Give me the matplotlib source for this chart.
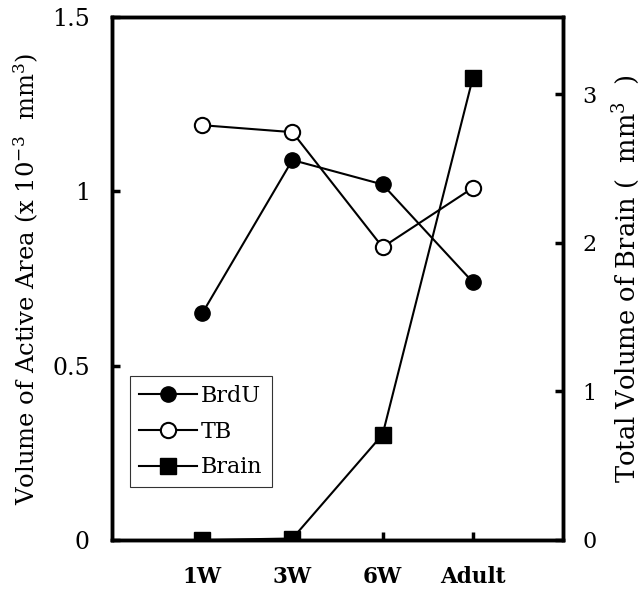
import matplotlib
matplotlib.use("Agg")
import matplotlib.pyplot as plt

categories = ["1W", "3W", "6W", "Adult"]
brdu = [0.65, 1.09, 1.02, 0.74]
tb = [1.19, 1.17, 0.84, 1.01]
brain = [0.0, 0.01, 0.71, 3.11]

plt.rcParams['font.family'] = ['DejaVu Serif']
plt.rcParams['mathtext.fontset'] = 'dejavuserif'

fig = plt.figure(figsize=(6.41, 6.01), dpi=100)
ax = fig.add_axes([0.1747, 0.1015, 0.7036, 0.870])
ax2 = ax.twinx()

x = list(range(1, len(categories) + 1))
l1, = ax.plot(x, brdu, color='black', lw=1.5, marker='o', ms=11,
              mfc='black', mec='black', label='BrdU', zorder=3)
l2, = ax.plot(x, tb, color='black', lw=1.5, marker='o', ms=11,
              mfc='white', mec='black', mew=1.5, label='TB', zorder=3)
l3, = ax2.plot(x, brain, color='black', lw=1.5, marker='s', ms=11,
               mfc='black', mec='black', label='Brain', zorder=3)

ax.set_xlim(0, 5)
ax.set_ylim(0, 1.5)
ax2.set_ylim(0, 3.52)

ax.set_xticks(x)
ax.set_xticklabels(categories, fontweight='bold', fontsize=15.5)
ax.set_yticks([0, 0.5, 1, 1.5])
ax.set_yticklabels(['0', '0.5', '1', '1.5'], fontsize=17)
ax2.set_yticks([0, 1, 2, 3])
ax2.set_yticklabels(['0', '1', '2', '3'], fontsize=16)

ax.tick_params(axis='y', direction='in', length=6, width=2.5, pad=16)
ax.tick_params(axis='x', direction='in', length=6, width=2.5, pad=19)
ax2.tick_params(axis='y', direction='in', length=6, width=2.5, pad=14)

for a in (ax, ax2):
    for s in a.spines.values():
        s.set_linewidth(2.5)

ax.set_ylabel(r'Volume of Active Area (x 10$^{-3}$  mm$^{3}$)', fontsize=17.5, labelpad=8)
ax2.set_ylabel(r'Total Volume of Brain (  mm$^{3}$  )', fontsize=18.5, labelpad=10)

leg = ax.legend(handles=[l1, l2, l3], loc='lower left',
                bbox_to_anchor=(0.04, 0.101), fontsize=16, frameon=True,
                fancybox=False, edgecolor='black', handlelength=2.6,
                handletextpad=0.2, borderpad=0.4, labelspacing=0.62,
                borderaxespad=0)
leg.get_frame().set_linewidth(0.8)

fig.savefig('out.png', dpi=100)
